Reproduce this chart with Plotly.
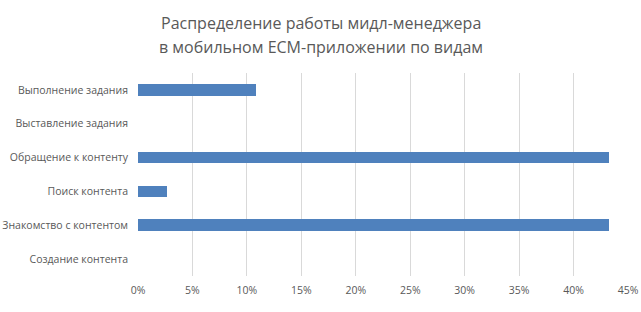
import plotly.graph_objects as go

categories = ["Выполнение задания", "Выставление задания", "Обращение к контенту",
              "Поиск контента", "Знакомство с контентом", "Создание контента"]
values = [0.108, 0.0, 0.4325, 0.027, 0.4325, 0.0]
tick_vals = [0, 0.05, 0.10, 0.15, 0.20, 0.25, 0.30, 0.35, 0.40, 0.45]
title_lines = ["Распределение работы мидл-менеджера",
               "в мобильном ECM-приложении по видам"]

W, H = 641, 312
M_L, M_R, M_T, M_B = 138, 13, 73, 36
plot_w = W - M_L - M_R
plot_h = H - M_T - M_B


def paper_y(px):
    return (H - M_B - px) / plot_h


fig = go.Figure(go.Bar(
    y=categories, x=values, orientation="h",
    marker=dict(color="#4F81BD", line=dict(width=0)),
    width=0.345,
))

annotations = []
for line, ypx in zip(title_lines, [23, 47]):
    annotations.append(dict(
        text=line, xref="paper", yref="paper",
        x=(W / 2 - M_L) / plot_w,
        y=paper_y(ypx), xanchor="center", yanchor="middle", showarrow=False,
        font=dict(family="Open Sans", size=16, color="#595959"),
    ))

fig.update_layout(
    width=W, height=H,
    margin=dict(l=M_L, r=M_R, t=M_T, b=M_B),
    paper_bgcolor="white", plot_bgcolor="white",
    font=dict(family="Open Sans", color="#595959", size=10.5),
    showlegend=False,
    bargap=0,
    annotations=annotations,
)
fig.update_xaxes(range=[0, 0.45], tickvals=tick_vals, tickformat=".0%",
                 showgrid=True, gridcolor="#D9D9D9", gridwidth=1,
                 zeroline=False, showline=False, ticks="", ticklabelstandoff=6,
                 automargin=False)
fig.update_yaxes(categoryorder="array", categoryarray=categories[::-1],
                 showgrid=False, zeroline=False, showline=False, ticks="",
                 ticklabelstandoff=9, automargin=False)

fig.write_html("out.html")
